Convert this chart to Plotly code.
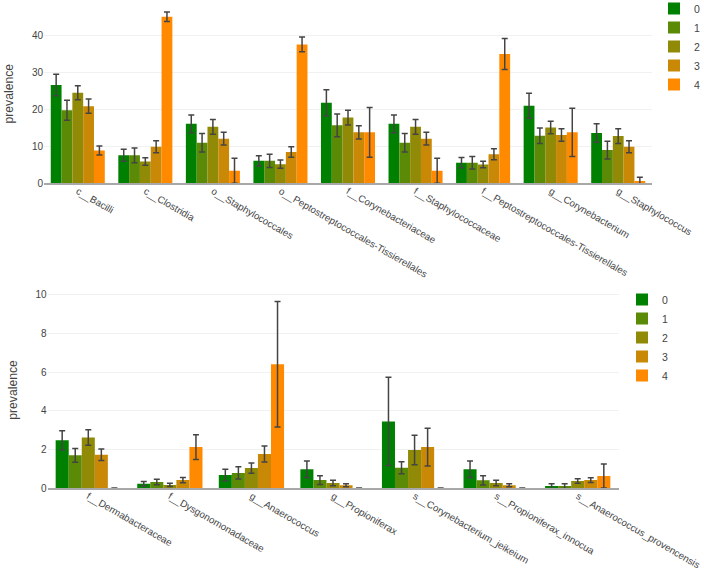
import plotly.graph_objects as go

# ---------------- data ----------------
groups = ["0", "1", "2", "3", "4"]
colors = ["#008000", "#5a8a06", "#908a06", "#c98906", "#ff8a00"]

top_categories = ["c__Bacilli", "c__Clostridia", "o__Staphylococcales",
                  "o__Peptostreptococcales-Tissierellales", "f__Corynebacteriaceae",
                  "f__Staphylococcaceae", "f__Peptostreptococcales-Tissierellales",
                  "g__Corynebacterium", "g__Staphylococcus"]

top_g0 = [26.5, 7.5, 16.0, 6.0, 21.7, 16.0, 5.5, 20.9, 13.5]
top_g1 = [19.7, 7.5, 10.9, 6.0, 15.6, 10.9, 5.5, 12.8, 8.9]
top_g2 = [24.4, 5.8, 15.2, 5.1, 17.7, 15.2, 5.0, 15.0, 12.7]
top_g3 = [20.8, 9.8, 12.0, 8.4, 13.7, 12.0, 7.8, 13.0, 9.8]
top_g4 = [8.8, 45.0, 3.3, 37.5, 13.7, 3.3, 34.9, 13.7, 0.55]

top_e0 = [2.9, 1.6, 2.4, 1.4, 3.5, 2.4, 1.4, 3.4, 2.5]
top_e1 = [2.7, 2.0, 2.5, 1.8, 3.1, 2.5, 1.7, 2.1, 2.4]
top_e2 = [1.9, 1.0, 2.0, 1.1, 2.0, 2.0, 0.9, 1.7, 2.0]
top_e3 = [1.9, 1.6, 1.7, 1.4, 1.8, 1.7, 1.5, 1.7, 1.6]
top_e4 = [1.2, 1.3, 3.4, 2.0, 6.7, 3.4, 4.2, 6.5, 1.0]

bottom_categories = ["f__Dermabacteraceae", "f__Dysgonomonadaceae", "g__Anaerococcus",
                     "g__Propioniferax", "s__Corynebacterium_jeikeium",
                     "s__Propioniferax_innocua", "s__Anaerococcus_provencensis"]

bot_g0 = [2.47, 0.22, 0.67, 0.97, 3.45, 0.97, 0.10]
bot_g1 = [1.69, 0.31, 0.78, 0.41, 1.05, 0.40, 0.10]
bot_g2 = [2.62, 0.16, 1.03, 0.26, 1.97, 0.26, 0.36]
bot_g3 = [1.72, 0.41, 1.76, 0.14, 2.12, 0.14, 0.41]
bot_g4 = [0.0, 2.12, 6.41, 0.0, 0.0, 0.0, 0.62]

bot_e0 = [0.50, 0.12, 0.30, 0.43, 2.29, 0.43, 0.12]
bot_e1 = [0.36, 0.14, 0.32, 0.23, 0.31, 0.24, 0.12]
bot_e2 = [0.40, 0.08, 0.26, 0.14, 0.76, 0.14, 0.12]
bot_e3 = [0.30, 0.14, 0.41, 0.08, 0.98, 0.08, 0.12]
bot_e4 = [0.0, 0.64, 3.25, 0.0, 0.0, 0.0, 0.62]

top_values = [top_g0, top_g1, top_g2, top_g3, top_g4]
top_errors = [top_e0, top_e1, top_e2, top_e3, top_e4]
bot_values = [bot_g0, bot_g1, bot_g2, bot_g3, bot_g4]
bot_errors = [bot_e0, bot_e1, bot_e2, bot_e3, bot_e4]

# ---------------- figure ----------------
W, H = 704, 574
FONT = "Arial, Liberation Sans, sans-serif"
fig = go.Figure()

for i, g in enumerate(groups):
    fig.add_trace(go.Bar(
        x=top_categories, y=top_values[i], name=g,
        marker=dict(color=colors[i], line=dict(width=0)),
        error_y=dict(type="data", array=top_errors[i], visible=True,
                     color="#444444", thickness=1.5, width=3),
        xaxis="x", yaxis="y", legend="legend", legendgroup="top",
    ))
for i, g in enumerate(groups):
    fig.add_trace(go.Bar(
        x=bottom_categories, y=bot_values[i], name=g,
        marker=dict(color=colors[i], line=dict(width=0)),
        error_y=dict(type="data", array=bot_errors[i], visible=True,
                     color="#444444", thickness=1.5, width=3),
        xaxis="x2", yaxis="y2", legend="legend2", legendgroup="bottom",
    ))


def px_x(p):
    return p / W


def px_y(p):
    return (H - p) / H


ytick_font = dict(size=10, color="#444444", family=FONT)
xtick_font = dict(size=9.8, color="#444444", family=FONT)
xaxis_common = dict(tickangle=30, showgrid=False, showline=True,
                    linecolor="#a8a8a8", linewidth=2, ticks="", zeroline=False,
                    ticklabelstandoff=-3, tickfont=xtick_font, automargin=False)
title_font = dict(size=12.2, family=FONT, color="#444444")
yaxis_common = dict(showgrid=True, gridcolor="#f1f1f1", gridwidth=1,
                    zeroline=False, showline=False, ticks="",
                    tickfont=ytick_font, automargin=False)

fig.update_layout(
    width=W, height=H,
    template="none",
    paper_bgcolor="white", plot_bgcolor="white",
    font=dict(family=FONT, color="#444444", size=10.5),
    margin=dict(l=0, r=0, t=0, b=0, autoexpand=False),
    barmode="group", bargap=0.2, bargroupgap=0,
    xaxis=dict(domain=[px_x(44), px_x(652)], anchor="y", **xaxis_common),
    yaxis=dict(domain=[px_y(183), px_y(4.5)], anchor="x", range=[0, 48.3],
               dtick=10,
               title=dict(text="prevalence", font=title_font, standoff=15),
               **yaxis_common),
    xaxis2=dict(domain=[px_x(47.5), px_x(618.5)], anchor="y2", **xaxis_common),
    yaxis2=dict(domain=[px_y(488), px_y(292)], anchor="x2", range=[0, 10.15],
                dtick=2,
                title=dict(text="prevalence", font=title_font, standoff=15),
                **yaxis_common),
    legend=dict(x=px_x(654), xanchor="left", y=px_y(-6), yanchor="top",
                font=dict(size=10.5, family=FONT, color="#444444"),
                bgcolor="rgba(0,0,0,0)", borderwidth=0),
    legend2=dict(x=px_x(622), xanchor="left", y=px_y(285), yanchor="top",
                 font=dict(size=10.5, family=FONT, color="#444444"),
                 bgcolor="rgba(0,0,0,0)", borderwidth=0),
    showlegend=True,
)

fig.write_html(
    "out.html",
    config={"displayModeBar": False},
    post_script="document.body.style.margin='0px';document.body.style.overflow='hidden';",
)
